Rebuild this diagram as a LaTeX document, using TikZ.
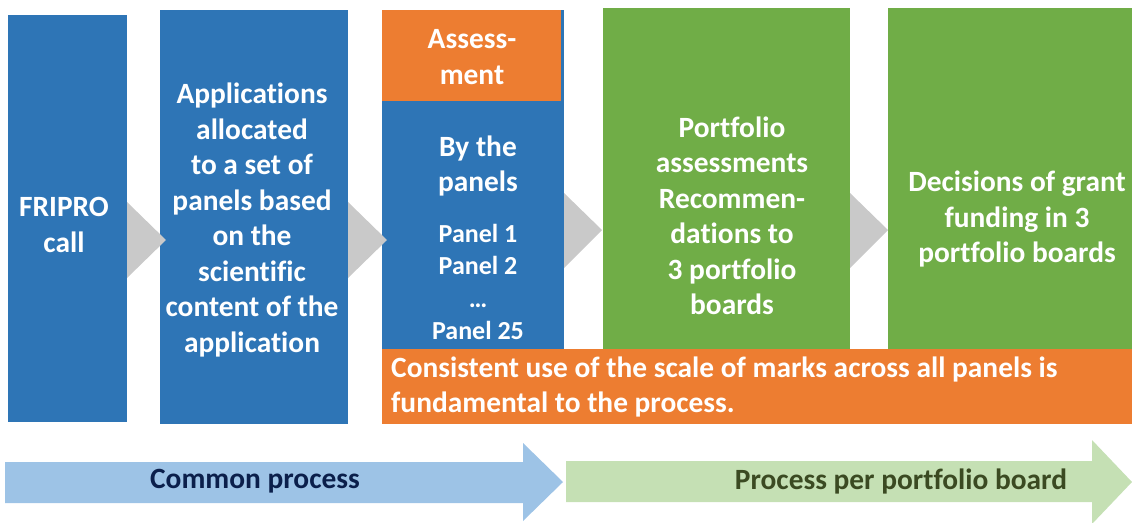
\documentclass[tikz,border=0pt]{standalone}
\usepackage{fontspec}
\setmainfont{Carlito}[Ligatures={NoCommon}]
\definecolor{cblue}{HTML}{2E75B6}
\definecolor{corange}{HTML}{ED7D31}
\definecolor{cgreen}{HTML}{70AD47}
\definecolor{cgrey}{HTML}{C9C9C9}
\definecolor{lblue}{HTML}{9DC3E6}
\definecolor{lgreen}{HTML}{C5E0B4}
\definecolor{navy}{HTML}{0B1F4B}
\definecolor{dgreen}{HTML}{3B4A22}
\tikzset{
  box/.style={anchor=north west, inner sep=0pt, outer sep=0pt, draw=none},
  wtext/.style={text=white, font=\bfseries\fontsize{29.4}{35.5}\selectfont, align=center, inner sep=0pt},
  ptext/.style={text=white, font=\bfseries\fontsize{26}{32.4}\selectfont, align=center, inner sep=0pt},
  chev/.style={fill=cgrey, draw=none},
}
\begin{document}
\begin{tikzpicture}[x=1pt, y=-1pt]
\useasboundingbox (0,0) rectangle (1132,522);
% main boxes
\node[box, fill=cblue, minimum width=119pt, minimum height=407pt] (b1) at (8,15) {};
\node[box, fill=cblue, minimum width=188pt, minimum height=414pt] (b2) at (160,10) {};
\node[box, fill=cblue, minimum width=182pt, minimum height=339pt] (b3) at (382,10) {};
\node[box, fill=corange, minimum width=179pt, minimum height=91pt] (b3h) at (382,10) {};
\node[box, fill=cgreen, minimum width=247pt, minimum height=341pt] (b4) at (603,8) {};
\node[box, fill=cgreen, minimum width=244pt, minimum height=341pt] (b5) at (888,8) {};
\node[box, fill=corange, minimum width=750pt, minimum height=75pt] (bar) at (382,349) {};
% chevrons
\fill[chev] (127,202) -- (166,240) -- (127,278) -- cycle;
\fill[chev] (348,202) -- (387,240) -- (348,278) -- cycle;
\fill[chev] (564,193) -- (602,230) -- (564,268) -- cycle;
\fill[chev] (850,193) -- (888,230) -- (850,268) -- cycle;
% texts
\node[wtext] (t1) at (64,225) {FRIPRO\\call};
\node[wtext] (t2) at (252,220) {Applications\\allocated\\to a set of\\panels based\\on the\\scientific\\content of the\\application};
\node[wtext] (t3a) at (472,57) {Assess-\\ment};
\node[wtext] (t3b) at (478,166) {By the\\panels};
\node[ptext] (t3c) at (478,282) {Panel 1\\Panel 2\\…\\Panel 25};
\node[wtext] (t4) at (732,216) {Portfolio\\assessments\\Recommen-\\dations to\\3 portfolio\\boards};
\node[wtext] (t5) at (1017,219) {Decisions of grant\\funding in 3\\portfolio boards};
\node[wtext, align=left, anchor=west] (t6) at (391,387) {Consistent use of the scale of marks across all panels is\\fundamental to the process.};
% bottom arrows
\fill[lblue] (5,462) -- (523,462) -- (523,443) -- (563,482) -- (523,521) -- (523,503) -- (5,503) -- cycle;
\fill[lgreen] (566,461) -- (1092,461) -- (1092,440) -- (1132,482) -- (1092,524) -- (1092,502) -- (566,502) -- cycle;
\node[text=navy, font=\bfseries\fontsize{29.4}{35.5}\selectfont, inner sep=0pt] (c1) at (255,481) {Common process};
\node[text=dgreen, font=\bfseries\fontsize{29.4}{35.5}\selectfont, inner sep=0pt] (c2) at (901,481) {Process per portfolio board};
\end{tikzpicture}
\end{document}
